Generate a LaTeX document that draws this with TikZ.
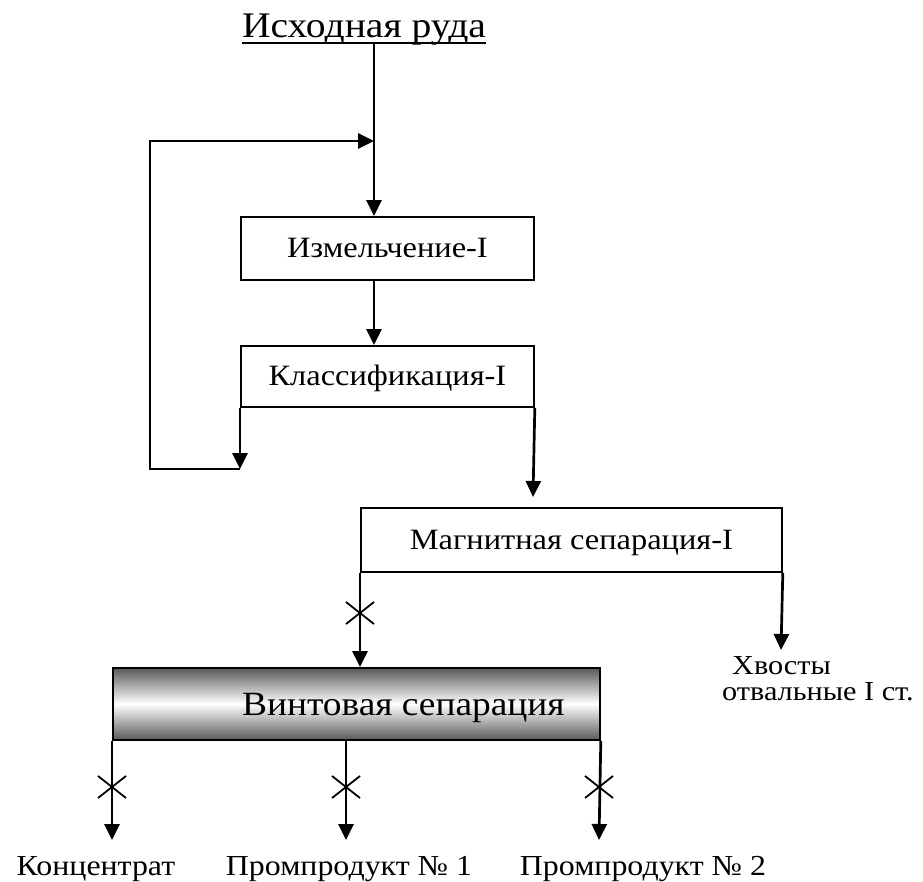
\documentclass[tikz,border=0pt]{standalone}
\usepackage{fontspec}
\setmainfont[FakeStretch=1.1]{Liberation Serif}
\usetikzlibrary{arrows.meta}
\begin{document}
\begin{tikzpicture}[x=1pt,y=-1pt,
  box/.style={draw, line width=1.8pt, inner sep=0pt, anchor=north west,
    font=\fontsize{29.5}{32}\selectfont, text height=19pt, text depth=0pt},
  flow/.style={line width=2.7pt, -{Triangle[width=15pt,length=16pt]}},
  plain/.style={line width=2.7pt},
  lbl/.style={inner sep=0pt, anchor=base, font=\fontsize{29}{30}\selectfont},
  xmark/.style={line width=1.8pt}]
\useasboundingbox (0,0) rectangle (923,881);

% title
\node[inner sep=0pt, anchor=base, font=\fontsize{36}{40}\selectfont] (title) at (364,37) {Исходная руда};
\draw[line width=1.8pt] ([yshift=-6pt]title.base west) -- ([yshift=-6pt]title.base east);

% boxes
\node[box, minimum width=293pt, minimum height=63pt] (izm) at (240,216) {Измельчение-I};
\node[box, minimum width=293pt, minimum height=61pt] (klass) at (240,345) {Классификация-I};
\node[box, minimum width=421pt, minimum height=64pt] (magn) at (360,507) {Магнитная сепарация-I};
\node[box, minimum width=487pt, minimum height=72pt,
  top color=black!65, bottom color=black!65, middle color=white,
  font=\fontsize{34}{38}\selectfont, text height=23pt] (vint) at (112,667) {\hspace*{94pt}Винтовая сепарация};

% labels
\node[inner sep=0pt, anchor=north west, align=left, font=\fontsize{27.5}{26}\selectfont] (tails) at (722,656) {\hspace*{10pt}Хвосты\\отвальные I ст.};
\node[lbl] (conc) at (96,875) {Концентрат};
\node[lbl] (pp1) at (349,875) {Промпродукт № 1};
\node[lbl] (pp2) at (643,875) {Промпродукт № 2};

% coordinates
\coordinate (top) at (374,43);
\coordinate (fb) at (374,141);
\coordinate (fbl) at (150,141);
\coordinate (ret) at (240,469);
\coordinate (min) at (533,497);
\coordinate (tin) at (781,650);
\coordinate (o1) at (112,840);
\coordinate (o2) at (346,840);
\coordinate (o3) at (599,840);

% connectors
\draw[flow] (top) -- (top |- izm.north);
\draw[flow] (top |- izm.south) -- (top |- klass.north);
\draw[flow] (klass.south west) -- (ret);
\draw[flow] (ret) -| (fbl) -- (fb);
\draw[flow] (klass.south east) -- (min);
\draw[flow] (magn.south east) -- (tin);
\draw[flow] (magn.south west) -- (magn.south west |- vint.north);
\draw[flow] (vint.south west) -- (o1);
\draw[flow] (o2 |- vint.south) -- (o2);
\draw[flow] (vint.south east) -- (o3);

% crosses
\foreach \cx/\cy in {360/613, 112/787, 346/787, 599/787}{
  \draw[xmark] (\cx-14,\cy-11) -- (\cx+14,\cy+11);
  \draw[xmark] (\cx-14,\cy+11) -- (\cx+14,\cy-11);
}
\end{tikzpicture}
\end{document}
